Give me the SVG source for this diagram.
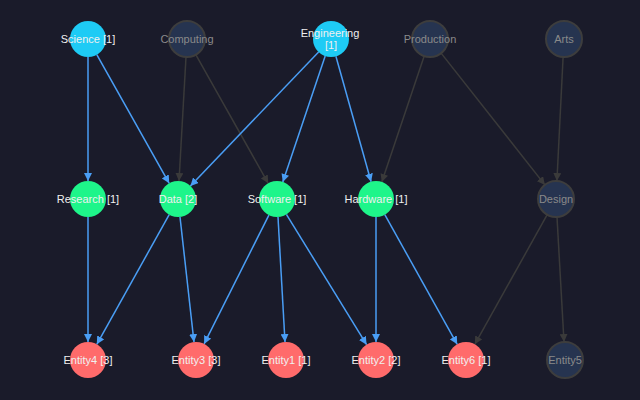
<svg xmlns="http://www.w3.org/2000/svg" width="640" height="400" viewBox="0 0 640 400">
<defs>
<marker id="ab" viewBox="0 0 10 10" refX="10" refY="5" markerWidth="8" markerHeight="8" markerUnits="userSpaceOnUse" orient="auto"><path d="M0,0L10,5L0,10z" fill="#4a9ef5"/></marker>
<marker id="ad" viewBox="0 0 10 10" refX="10" refY="5" markerWidth="8" markerHeight="8" markerUnits="userSpaceOnUse" orient="auto"><path d="M0,0L10,5L0,10z" fill="#3a3a3a"/></marker>
<style>
.eb{stroke:#4a9ef5;stroke-width:1.5;fill:none;marker-end:url(#ab)}
.ed{stroke:#3a3a3a;stroke-width:1.5;fill:none;marker-end:url(#ad)}
.cy{fill:#1ecbf5}
.gr{fill:#1ef58a}
.rd{fill:#ff6b6b}
.dm{fill:#263450;stroke:#3d3d3d;stroke-width:2}
text{font-family:"Liberation Sans",Arial,sans-serif;font-size:11px;text-anchor:middle;dominant-baseline:central}
.t{fill:#f0f0f0}
.td{fill:#8a8a8a}
</style>
</defs>
<rect width="640" height="400" fill="#1a1b2a"/>
<g id="connectors">
<line class="eb" x1="88" y1="57" x2="88" y2="181"/>
<line class="eb" x1="96.8" y1="54.7" x2="169.2" y2="183.3"/>
<line class="ed" x1="186" y1="57" x2="179" y2="181"/>
<line class="ed" x1="195.8" y1="54.7" x2="268.2" y2="183.3"/>
<line class="eb" x1="318.6" y1="52" x2="190.4" y2="186"/>
<line class="eb" x1="325.2" y1="56" x2="282.8" y2="182"/>
<line class="eb" x1="335.9" y1="56.3" x2="371.1" y2="181.7"/>
<line class="ed" x1="424.2" y1="56" x2="381.8" y2="182"/>
<line class="ed" x1="441.1" y1="53.1" x2="544.9" y2="184.9"/>
<line class="ed" x1="563.1" y1="57" x2="556.9" y2="181"/>
<line class="eb" x1="88" y1="217" x2="88" y2="342"/>
<line class="eb" x1="169.2" y1="214.7" x2="96.8" y2="344.3"/>
<line class="eb" x1="180" y1="216.9" x2="194" y2="342.1"/>
<line class="eb" x1="268.9" y1="215.1" x2="204.1" y2="343.9"/>
<line class="eb" x1="278" y1="217" x2="285" y2="342"/>
<line class="eb" x1="286.4" y1="214.3" x2="366.6" y2="344.7"/>
<line class="eb" x1="376" y1="217" x2="376" y2="342"/>
<line class="eb" x1="384.8" y1="214.7" x2="457.2" y2="344.3"/>
<line class="ed" x1="547.2" y1="214.7" x2="474.8" y2="344.3"/>
<line class="ed" x1="557" y1="217" x2="564" y2="342"/>
</g>
<g id="science"><circle class="cy" cx="88" cy="39" r="18"/><text class="t" x="88" y="39">Science [1]</text></g>
<g id="computing"><circle class="dm" cx="187" cy="39" r="18"/><text class="td" x="187" y="39">Computing</text></g>
<g id="engineering"><circle class="cy" cx="331" cy="39" r="18"/><text class="t" x="330" y="33">Engineering</text><text class="t" x="331" y="45">[1]</text></g>
<g id="production"><circle class="dm" cx="430" cy="39" r="18"/><text class="td" x="430" y="39">Production</text></g>
<g id="arts"><circle class="dm" cx="564" cy="39" r="18"/><text class="td" x="564" y="39">Arts</text></g>
<g id="research"><circle class="gr" cx="88" cy="199" r="18"/><text class="t" x="88" y="199">Research [1]</text></g>
<g id="data"><circle class="gr" cx="178" cy="199" r="18"/><text class="t" x="178" y="199">Data [2]</text></g>
<g id="software"><circle class="gr" cx="277" cy="199" r="18"/><text class="t" x="277" y="199">Software [1]</text></g>
<g id="hardware"><circle class="gr" cx="376" cy="199" r="18"/><text class="t" x="376" y="199">Hardware [1]</text></g>
<g id="design"><circle class="dm" cx="556" cy="199" r="18"/><text class="td" x="556" y="199">Design</text></g>
<g id="entity4"><circle class="rd" cx="88" cy="360" r="18"/><text class="t" x="88" y="360">Entity4 [3]</text></g>
<g id="entity3"><circle class="rd" cx="196" cy="360" r="18"/><text class="t" x="196" y="360">Entity3 [3]</text></g>
<g id="entity1"><circle class="rd" cx="286" cy="360" r="18"/><text class="t" x="286" y="360">Entity1 [1]</text></g>
<g id="entity2"><circle class="rd" cx="376" cy="360" r="18"/><text class="t" x="376" y="360">Entity2 [2]</text></g>
<g id="entity6"><circle class="rd" cx="466" cy="360" r="18"/><text class="t" x="466" y="360">Entity6 [1]</text></g>
<g id="entity5"><circle class="dm" cx="565" cy="360" r="18"/><text class="td" x="565" y="360">Entity5</text></g>
</svg>
